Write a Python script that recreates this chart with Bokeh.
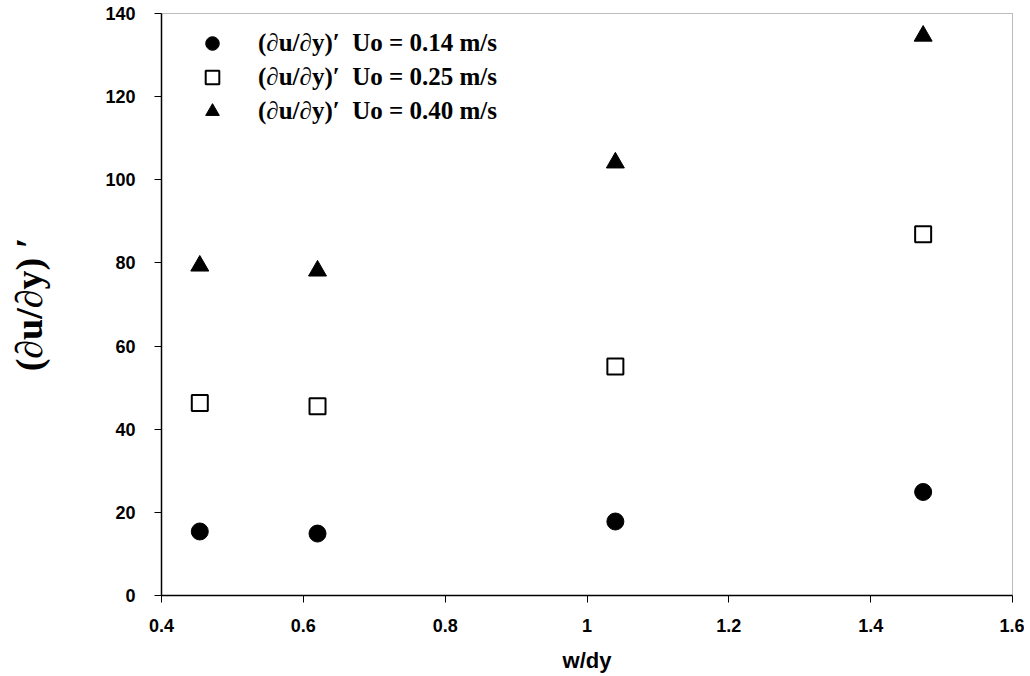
from bokeh.plotting import figure
from bokeh.models import (Range1d, FixedTicker, CustomJSTickFormatter, Legend, LegendItem)
from bokeh.embed import file_html
from bokeh.resources import INLINE

# ---- data ----
x_vals = [0.454, 0.620, 1.040, 1.474]
y_014 = [15.4, 14.9, 17.8, 24.9]
y_025 = [46.3, 45.5, 55.1, 86.9]
y_040 = [79.3, 78.1, 104.1, 134.6]
x_ticks = [0.4, 0.6, 0.8, 1.0, 1.2, 1.4, 1.6]
y_ticks = [0, 20, 40, 60, 80, 100, 120, 140]
labels = ["(\u2202u/\u2202y)\u2032  Uo = 0.14 m/s",
          "(\u2202u/\u2202y)\u2032  Uo = 0.25 m/s",
          "(\u2202u/\u2202y)\u2032  Uo = 0.40 m/s"]

p = figure(width=1024, height=676, output_backend="svg", toolbar_location=None,
           x_range=Range1d(0.4, 1.6), y_range=Range1d(0, 140),
           min_border_left=161, min_border_right=12, min_border_top=13, min_border_bottom=81)

p.xgrid.visible = False
p.ygrid.visible = False
p.background_fill_color = "white"
p.border_fill_color = "white"
p.outline_line_color = "#777777"
p.outline_line_dash = "1 1"
p.outline_line_width = 1

r1 = p.scatter(x_vals, y_014, marker="circle", size=17, fill_color="black", line_color="black")
r2 = p.scatter(x_vals, y_025, marker="square", size=16, fill_color="white", line_color="black", line_width=2)
r3 = p.scatter(x_vals, y_040, marker="triangle", size=18, fill_color="black", line_color="black")

for ax in (p.xaxis[0], p.yaxis[0]):
    ax.axis_line_color = "black"
    ax.axis_line_width = 1.5
    ax.major_tick_out = 7
    ax.major_tick_in = 0
    ax.minor_tick_line_color = None
    ax.major_tick_line_color = "black"
    ax.major_label_text_font = "Liberation Sans"
    ax.major_label_text_font_style = "bold"
    ax.major_label_text_font_size = "18px"
    ax.major_label_text_color = "black"

p.xaxis.ticker = FixedTicker(ticks=x_ticks)
p.yaxis.ticker = FixedTicker(ticks=y_ticks)
p.xaxis.formatter = CustomJSTickFormatter(code="return (Math.round(tick*10)/10).toString();")
p.xaxis.major_label_standoff = 16
p.yaxis.major_label_standoff = 19

p.xaxis.axis_label = "w/dy"
p.xaxis.axis_label_text_font = "Liberation Sans"
p.xaxis.axis_label_text_font_style = "bold"
p.xaxis.axis_label_text_font_size = "22px"
p.xaxis.axis_label_text_color = "black"
p.xaxis.axis_label_standoff = 13

p.yaxis.axis_label = "(\u2202u/\u2202y) \u2032"
p.yaxis.axis_label_text_font = "Liberation Serif"
p.yaxis.axis_label_text_font_style = "bold"
p.yaxis.axis_label_text_font_size = "38px"
p.yaxis.axis_label_text_color = "black"
p.yaxis.axis_label_standoff = 52

legend = Legend(items=[LegendItem(label=labels[0], renderers=[r1]),
                       LegendItem(label=labels[1], renderers=[r2]),
                       LegendItem(label=labels[2], renderers=[r3])],
                location=(31, 467), padding=0, margin=0, spacing=0,
                glyph_width=40, glyph_height=34, label_height=34, label_standoff=26,
                label_text_font="Liberation Serif", label_text_font_style="bold",
                label_text_font_size="25px", label_text_color="black",
                border_line_color=None, background_fill_alpha=0)
p.add_layout(legend, "center")

open("out.html", "w").write(file_html(p, INLINE))
